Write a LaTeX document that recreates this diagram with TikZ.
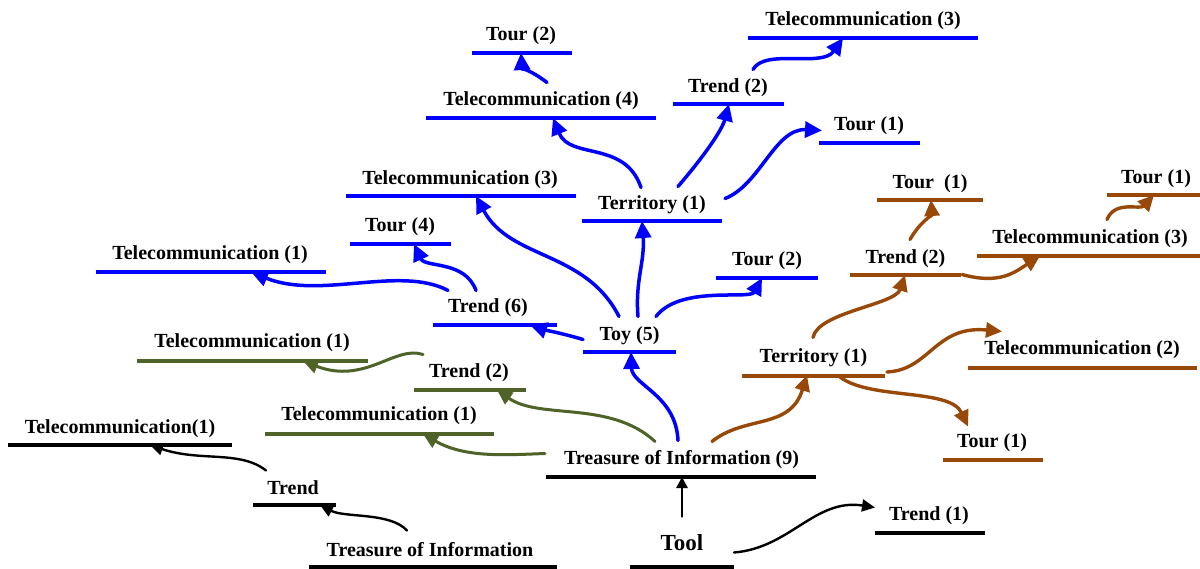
\documentclass[tikz,border=0pt]{standalone}
\usepackage{fontspec}
\setmainfont{Liberation Serif}
\usetikzlibrary{arrows.meta}
\definecolor{cblue}{RGB}{0,0,255}
\definecolor{cgreen}{HTML}{4F6228}
\definecolor{cbrown}{HTML}{984807}
\definecolor{cblack}{RGB}{0,0,0}
\tikzset{
  txt/.style={inner sep=0pt, yshift=-2.5pt, font=\bfseries\fontsize{20}{24}\selectfont, text=black},
  bigtxt/.style={inner sep=0pt, yshift=-2.5pt, font=\bfseries\fontsize{23}{27}\selectfont, text=black},
  ul/.style={line width=3.4pt},
  blueline/.style={ul, draw=cblue},
  greenline/.style={ul, draw=cgreen},
  brownline/.style={ul, draw=cbrown},
  blackline/.style={ul, draw=cblack},
  barr/.style={draw=cblue, line width=3.5pt, line cap=round, -{Triangle[length=17pt,width=16pt]}},
  garr/.style={draw=cgreen, line width=3pt, line cap=round, -{Triangle[length=15pt,width=14pt]}},
  rarr/.style={draw=cbrown, line width=3.4pt, line cap=round, -{Triangle[length=16pt,width=15pt]}},
  karr/.style={draw=cblack, line width=2.4pt, line cap=round, -{Triangle[length=13pt,width=12pt]}},
}
% name, line style, text x, text y, line x1, line x2, line y, text
\newcommand\concept[8]{%
  \node[txt] (#1) at (#3,#4) {#8};
  \draw[#2] (#5,#7) -- coordinate[midway] (#1-u) (#6,#7);
}
\begin{document}
\begin{tikzpicture}[x=1pt,y=-1pt]
\useasboundingbox (0,0) rectangle (1200,569);
\fill[white] (0,0) rectangle (1200,569);
% ---- blue ----
\concept{tourA}{blueline}{521}{33}{472}{572}{53}{Tour (2)}
\concept{telA}{blueline}{863}{18}{748}{978}{38}{Telecommunication (3)}
\concept{telB}{blueline}{541}{98}{426}{656}{118}{Telecommunication (4)}
\concept{trendA}{blueline}{728}{85}{673}{784}{104}{Trend (2)}
\concept{tourB}{blueline}{869}{123}{819}{920}{143}{Tour (1)}
\concept{terrA}{blueline}{652}{202}{582}{722}{221}{Territory (1)}
\concept{telC}{blueline}{460}{177}{346}{576}{196}{Telecommunication (3)}
\concept{tourC}{blueline}{400}{224}{350}{451}{244}{Tour (4)}
\concept{telD}{blueline}{210}{252}{96}{326}{272}{Telecommunication (1)}
\concept{trendB}{blueline}{488}{305}{433}{557}{325}{Trend (6)}
\concept{tourD}{blueline}{767}{258}{716}{818}{278}{Tour (2)}
\concept{toy}{blueline}{629.5}{333}{583}{676}{352}{Toy (5)}
% ---- green ----
\concept{telE}{greenline}{252}{340}{137}{368}{361}{Telecommunication (1)}
\concept{trendC}{greenline}{469}{370}{414}{526}{390}{Trend (2)}
\concept{telF}{greenline}{379}{413}{265}{494}{434}{Telecommunication (1)}
% ---- black ----
\concept{telG}{blackline}{120}{426}{8}{232}{445}{Telecommunication(1)}
\concept{trendD}{blackline}{293}{485}{253}{336}{505}{Trend}
\concept{treasA}{blackline, line width=4.4pt}{430}{547}{309}{557}{567}{Treasure of Information}
\concept{treasB}{blackline, line width=4.4pt}{681.5}{457}{546}{816}{477}{Treasure of Information (9)}
\node[bigtxt] (tool) at (682,540) {Tool};
\draw[blackline] (630,567) -- coordinate[midway] (tool-u) (734,567);
\concept{trendE}{blackline}{929}{513}{875}{985}{533}{Trend (1)}
% ---- brown ----
\concept{tourE}{brownline}{930}{181}{877}{983}{200}{Tour\ \ (1)}
\concept{tourF}{brownline}{1156}{176}{1107}{1200}{195}{Tour (1)}
\concept{trendF}{brownline}{905.5}{256}{850}{961}{275}{Trend (2)}
\concept{telH}{brownline}{1090}{236}{977}{1200}{256}{Telecommunication (3)}
\concept{terrB}{brownline}{813.5}{355}{742}{885}{376}{Territory (1)}
\concept{telI}{brownline}{1082}{347}{968}{1197}{368}{Telecommunication (2)}
\concept{tourG}{brownline}{992}{440}{943}{1043}{460}{Tour (1)}

% ---- blue connectors ----
\draw[barr] ([shift={(6,-18)}]telB.center) .. controls (532,71) and (522,68) .. ([shift={(-1,0)}]tourA-u);
\draw[barr] ([shift={(25,-18)}]trendA.center) .. controls (765,48) and (822,68) .. ([shift={(-20,0)}]telA-u);
\draw[barr] ([shift={(-11,-17)}]terrA.center) .. controls (625,140) and (570,160) .. ([shift={(12,0)}]telB-u);
\draw[barr] ([shift={(26,-18)}]terrA.center) .. controls (705,155) and (722,130) .. ([shift={(0.5,0)}]trendA-u);
\draw[barr] ([shift={(73,-6)}]terrA.center) .. controls (760,185) and (775,128) .. ([shift={(-47,5)}]tourB.center);
\draw[barr] ([shift={(-10.5,-19)}]toy.center) .. controls (585,250) and (510,260) .. ([shift={(15,0)}]telC-u);
\draw[barr] ([shift={(8.5,-19)}]toy.center) .. controls (635,280) and (645,262) .. ([shift={(-10,0)}]terrA-u);
\draw[barr] ([shift={(26.5,-19)}]toy.center) .. controls (680,285) and (750,300) .. ([shift={(-5,0)}]tourD-u);
\draw[barr] ([shift={(-46.5,4)}]toy.center) .. controls (565,334) and (545,330) .. ([shift={(35,0)}]trendB-u);
\draw[barr] ([shift={(-12,-17)}]trendB.center) .. controls (465,260) and (425,268) .. ([shift={(13.5,0)}]tourC-u);
\draw[barr] ([shift={(-40,-17)}]trendB.center) .. controls (400,265) and (320,300) .. ([shift={(40,0)}]telD-u);
\draw[barr] ([shift={(-3.5,-19)}]treasB.center) .. controls (676,395) and (632,385) .. ([shift={(1.5,0)}]toy-u);
% ---- green connectors ----
\draw[garr] ([shift={(-26.5,-18)}]treasB.center) .. controls (610,400) and (540,420) .. ([shift={(27,0)}]trendC-u);
\draw[garr] ([shift={(-136.5,-6)}]treasB.center) .. controls (505,455) and (465,458) .. ([shift={(43.5,0)}]telF-u);
\draw[garr] ([shift={(-46,-18)}]trendC.center) .. controls (395,345) and (365,385) .. ([shift={(50.5,0)}]telE-u);
% ---- black connectors ----
\draw[karr] ([shift={(-27,-17)}]trendD.center) .. controls (240,450) and (200,462) .. ([shift={(30,0)}]telG-u);
\draw[karr] ([shift={(-23,-19)}]treasA.center) .. controls (390,512) and (345,518) .. ([shift={(25.5,0)}]trendD-u);
\draw[karr, line width=2.6pt, -{Triangle[length=11pt,width=11pt]}] ([shift={(0,-26)}]tool.center) -- ([shift={(1,0)}]treasB-u);
\draw[karr] ([shift={(52,10)}]tool.center) .. controls (790,548) and (815,498) .. ([shift={(-54,-8)}]trendE.center);
% ---- brown connectors ----
\draw[rarr] ([shift={(30.5,-18)}]treasB.center) .. controls (745,415) and (790,430) .. ([shift={(-6.5,-1)}]terrB-u);
\draw[rarr] ([shift={(-0.5,-20)}]terrB.center) .. controls (818,312) and (895,305) .. ([shift={(-0.5,0)}]trendF-u);
\draw[rarr] ([shift={(4.5,-19)}]trendF.center) .. controls (920,222) and (932,215) .. ([shift={(1,0)}]tourE-u);
\draw[rarr] ([shift={(56.5,16)}]trendF.center) .. controls (1000,285) and (1015,272) .. ([shift={(-48.5,0)}]telH-u);
\draw[rarr] ([shift={(17,-19)}]telH.center) .. controls (1115,200) and (1140,210) .. ([shift={(0.5,0)}]tourF-u);
\draw[rarr] ([shift={(73.5,-4)}]terrB-u) .. controls (930,370) and (935,325) .. ([shift={(-80,-18)}]telI.center);
\draw[rarr] ([shift={(26.5,1)}]terrB-u) .. controls (870,400) and (950,388) .. ([shift={(-24,-16)}]tourG.center);
\end{tikzpicture}
\end{document}
